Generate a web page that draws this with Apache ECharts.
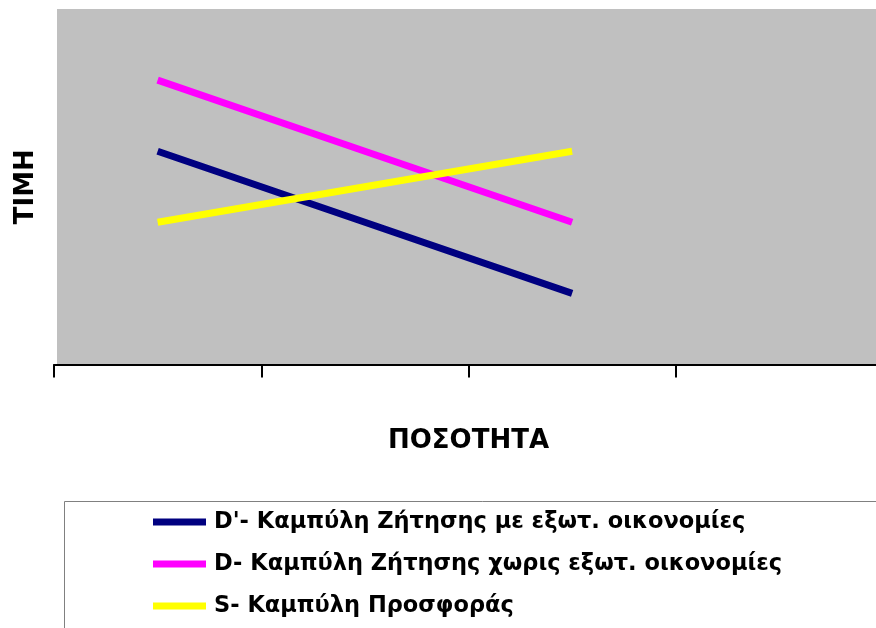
<!DOCTYPE html>
<html>
<head>
<meta charset="utf-8">
<script src="https://cdn.jsdelivr.net/npm/echarts@6/dist/echarts.min.js"></script>
<style>
  html, body { margin: 0; padding: 0; background: #ffffff; overflow: hidden; }
  #chart { width: 900px; height: 628px; }
</style>
</head>
<body>
<div id="chart"></div>
<script>
// Quantity positions along the horizontal axis (four slots, last one empty)
const quantities = ['1', '2', '3', '4'];

// Demand curve with external economies (D')
const demandWithExt = [6, 4, 2, null];
// Demand curve without external economies (D)
const demandNoExt = [8, 6, 4, null];
// Supply curve (S)
const supply = [4, 5, 6, null];

const seriesNames = [
  "D'- Καμπύλη Ζήτησης με εξωτ. οικονομίες",
  "D- Καμπύλη Ζήτησης χωρις εξωτ. οικονομίες",
  "S- Καμπύλη Προσφοράς"
];

const FONT = '"DejaVu Sans", Verdana, sans-serif';

const chart = echarts.init(document.getElementById('chart'), null, { renderer: 'canvas' });

chart.setOption({
  animation: false,
  backgroundColor: '#ffffff',
  grid: [
    { left: 54, top: 9, width: 829, height: 355.5, show: false, containLabel: false, outerBoundsMode: 'none' },
    { left: 57, top: 9, width: 840, height: 355.5, show: true, backgroundColor: '#C0C0C0', borderWidth: 0, outerBoundsMode: 'none' }
  ],
  xAxis: [
    {
      gridIndex: 0,
      type: 'category',
      data: quantities,
      boundaryGap: true,
      offset: 3,
      axisLine: { show: true, lineStyle: { color: '#000000', width: 2 } },
      axisTick: { show: true, inside: false, length: 13, lineStyle: { color: '#000000', width: 2 } },
      axisLabel: { show: false },
      splitLine: { show: false },
      name: 'ΠΟΣΟΤΗΤΑ',
      nameLocation: 'middle',
      nameGap: 61,
      nameTextStyle: { fontFamily: FONT, fontWeight: 'bold', fontSize: 26, color: '#000000' }
    },
    { gridIndex: 1, type: 'value', show: false }
  ],
  yAxis: [
    {
      gridIndex: 0,
      type: 'value',
      min: 0,
      max: 10,
      axisLine: { show: false },
      axisTick: { show: false },
      axisLabel: { show: false },
      splitLine: { show: false },
      name: 'ΤΙΜΗ',
      nameLocation: 'middle',
      nameRotate: 90,
      nameGap: 15,
      nameTextStyle: { fontFamily: FONT, fontWeight: 'bold', fontSize: 26, color: '#000000' }
    },
    { gridIndex: 1, type: 'value', show: false }
  ],
  graphic: [
    {
      type: 'rect',
      silent: true,
      shape: { x: 64.5, y: 501.5, width: 900, height: 200 },
      style: { fill: '#ffffff', stroke: '#808080', lineWidth: 1 },
      z: 0
    }
  ],
  legend: {
    orient: 'vertical',
    left: 153,
    top: 510,
    padding: 0,
    icon: 'rect',
    itemWidth: 53,
    itemHeight: 7,
    itemGap: 18,
    selectedMode: false,
    z: 10,
    textStyle: {
      fontFamily: FONT,
      fontWeight: 'bold',
      fontSize: 22.5,
      lineHeight: 24,
      color: '#000000',
      padding: [0, 0, 0, 3]
    },
    data: seriesNames
  },
  series: [
    {
      name: seriesNames[0],
      type: 'line',
      xAxisIndex: 0, yAxisIndex: 0,
      data: demandWithExt,
      symbol: 'none',
      lineStyle: { color: '#000080', width: 7, cap: 'butt' },
      itemStyle: { color: '#000080' },
      z: 3
    },
    {
      name: seriesNames[1],
      type: 'line',
      xAxisIndex: 0, yAxisIndex: 0,
      data: demandNoExt,
      symbol: 'none',
      lineStyle: { color: '#FF00FF', width: 7, cap: 'butt' },
      itemStyle: { color: '#FF00FF' },
      z: 4
    },
    {
      name: seriesNames[2],
      type: 'line',
      xAxisIndex: 0, yAxisIndex: 0,
      data: supply,
      symbol: 'none',
      lineStyle: { color: '#FFFF00', width: 7, cap: 'butt' },
      itemStyle: { color: '#FFFF00' },
      z: 5
    }
  ]
});
</script>
</body>
</html>
